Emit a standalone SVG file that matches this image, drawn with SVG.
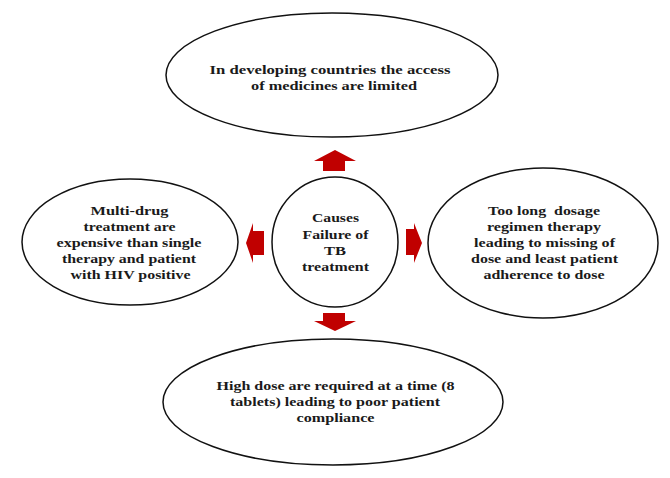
<svg xmlns="http://www.w3.org/2000/svg" width="670" height="478" viewBox="0 0 670 478">
<style>
.node ellipse{fill:#fff;stroke:#111;stroke-width:1.5}
text{font-family:"Liberation Serif","Times New Roman",Times,serif;font-weight:bold;font-size:13.5px;fill:#1a1a1a;text-anchor:middle}
.arrow{fill:#c00000}
</style>
<rect width="670" height="478" fill="#fff"/>
<g id="top" class="node">
<ellipse cx="332" cy="75" rx="166" ry="62"/>
<text x="330" y="74" textLength="241" lengthAdjust="spacingAndGlyphs">In developing countries the access</text>
<text x="334" y="90" textLength="166" lengthAdjust="spacingAndGlyphs">of medicines are limited</text>
</g>
<g id="left" class="node">
<ellipse cx="130" cy="242" rx="108" ry="63"/>
<text x="129.5" y="215" textLength="78" lengthAdjust="spacingAndGlyphs">Multi-drug</text>
<text x="129.5" y="231" textLength="92" lengthAdjust="spacingAndGlyphs">treatment are</text>
<text x="129" y="247" textLength="145" lengthAdjust="spacingAndGlyphs">expensive than single</text>
<text x="129" y="263" textLength="134" lengthAdjust="spacingAndGlyphs">therapy and patient</text>
<text x="130.5" y="279" textLength="120" lengthAdjust="spacingAndGlyphs">with HIV positive</text>
</g>
<g id="center" class="node">
<ellipse cx="335" cy="242" rx="63" ry="65"/>
<text x="335.5" y="222" textLength="47" lengthAdjust="spacingAndGlyphs">Causes</text>
<text x="335.5" y="239" textLength="66" lengthAdjust="spacingAndGlyphs">Failure of</text>
<text x="335" y="255" textLength="22" lengthAdjust="spacingAndGlyphs">TB</text>
<text x="335.5" y="271" textLength="67" lengthAdjust="spacingAndGlyphs">treatment</text>
</g>
<g id="right" class="node">
<ellipse cx="543" cy="243" rx="115" ry="75"/>
<text x="544" y="215" textLength="112" lengthAdjust="spacingAndGlyphs">Too long&#160; dosage</text>
<text x="544" y="231" textLength="114" lengthAdjust="spacingAndGlyphs">regimen therapy</text>
<text x="544.5" y="247" textLength="141" lengthAdjust="spacingAndGlyphs">leading to missing of</text>
<text x="544.5" y="263" textLength="147" lengthAdjust="spacingAndGlyphs">dose and least patient</text>
<text x="544" y="279" textLength="121" lengthAdjust="spacingAndGlyphs">adherence to dose</text>
</g>
<g id="bottom" class="node">
<ellipse cx="333" cy="402" rx="170" ry="63"/>
<text x="335.5" y="390" textLength="238" lengthAdjust="spacingAndGlyphs">High dose are required at a time (8</text>
<text x="335" y="406" textLength="210" lengthAdjust="spacingAndGlyphs">tablets) leading to poor patient</text>
<text x="335.5" y="422" textLength="78" lengthAdjust="spacingAndGlyphs">compliance</text>
</g>
<g id="connectors">
<polygon class="arrow" points="335,150 356,161 345,161 345,171 323,171 323,161 314,161"/>
<polygon class="arrow" points="246,243 253,223 253,231 264,231 264,255 253,255 253,263"/>
<polygon class="arrow" points="422,243 414,223 414,229 406,229 406,255 414,255 414,263"/>
<polygon class="arrow" points="335,331 356,321 345,321 345,313 323,313 323,321 314,321"/>
</g>
</svg>
